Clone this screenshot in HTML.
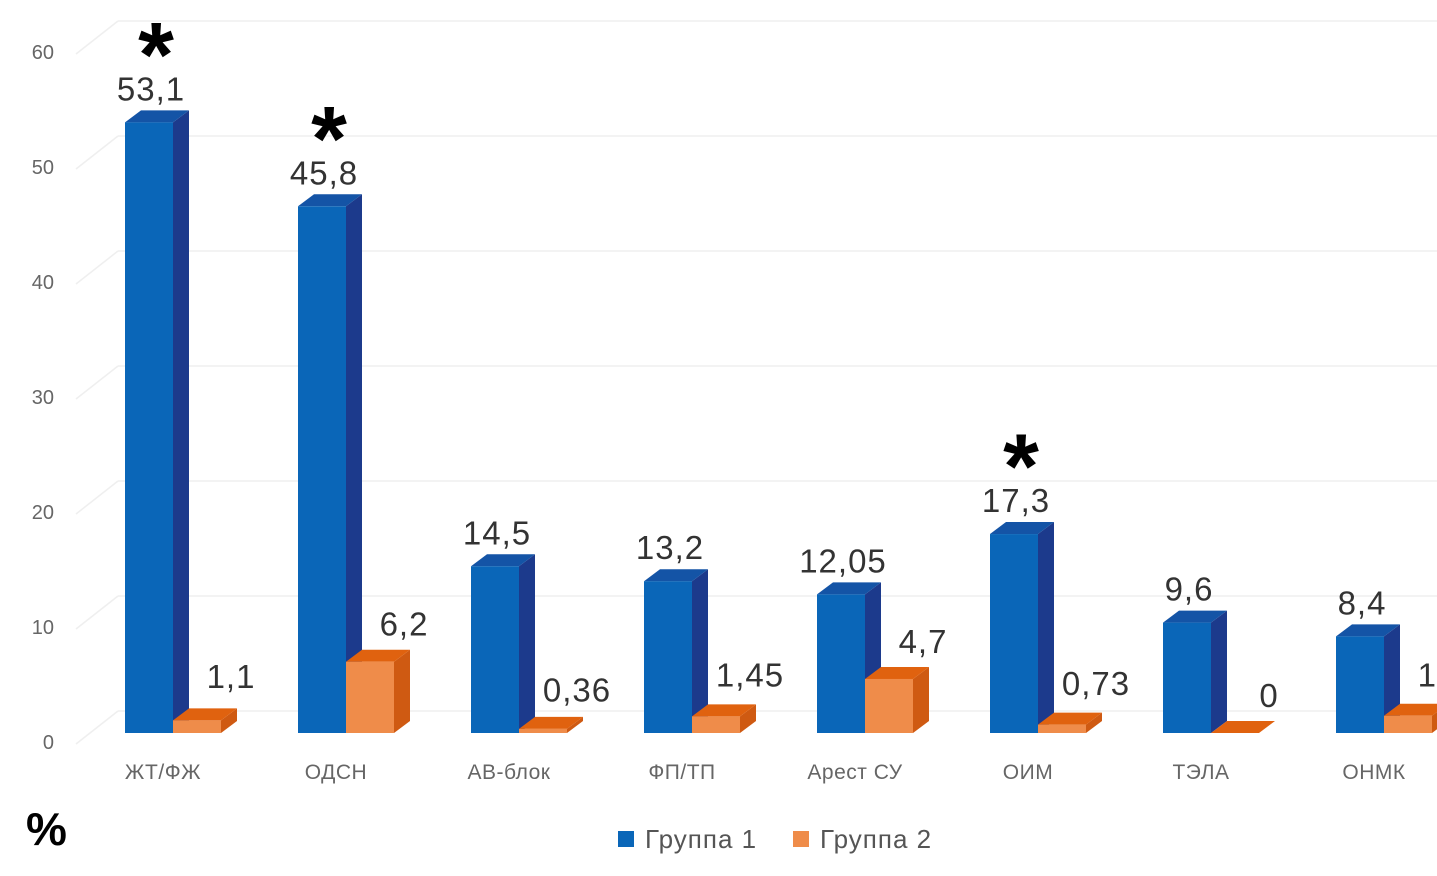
<!DOCTYPE html>
<html><head><meta charset="utf-8"><style>
body{margin:0;background:#fff;overflow:hidden}
svg{display:block;font-family:"Liberation Sans","DejaVu Sans",sans-serif}
</style></head><body>
<svg id="chart" width="1437" height="876" viewBox="0 0 1437 876"></svg>
<script>
const categories=["ЖТ/ФЖ","ОДСН","АВ-блок","ФП/ТП","Арест СУ","ОИМ","ТЭЛА","ОНМК"];
const group1=[53.1,45.8,14.5,13.2,12.05,17.3,9.6,8.4];
const group2=[1.1,6.2,0.36,1.45,4.7,0.73,0,1.5];
const significant=[true,true,false,false,false,true,false,false];
const yTicks=[0,10,20,30,40,50,60];
const NS="http://www.w3.org/2000/svg";
const svg=document.getElementById('chart');
const base=733, scale=11.5, x0=125, step=173, bw=48, dx=16, dy=-12;
const yF=v=>base-v*scale;
const xC=i=>x0+i*step;
function el(t,a,p){const e=document.createElementNS(NS,t);for(const k in a)e.setAttribute(k,a[k]);(p||svg).appendChild(e);return e;}
const fmt=v=>String(v).replace('.',',');
yTicks.forEach(v=>{
  const gy=yF(v)-22;
  const g=el('line',{x1:118,y1:gy,x2:1437,y2:gy,stroke:'#efefef','stroke-width':1.5});
  
  
  const d=el('line',{x1:76,y1:gy+33,x2:118,y2:gy,stroke:'#efefef','stroke-width':1.5});
  
  
  const t=el('text',{x:54,y:gy+38,'text-anchor':'end','font-size':20,fill:'#666'});
  t.textContent=v;
  
  
});
function bar3d(x,v,cf,cs,ct,name){
  const g=el('g',{});
  
  
  const top=yF(v);
  el('polygon',{points:`${x+bw},${top} ${x+bw+dx},${top+dy} ${x+bw+dx},${base+dy} ${x+bw},${base}`,fill:cs},g);
  el('polygon',{points:`${x},${top} ${x+dx},${top+dy} ${x+bw+dx},${top+dy} ${x+bw},${top}`,fill:ct},g);
  el('rect',{x:x,y:top,width:bw,height:Math.max(0,base-top),fill:cf},g);
  return top;
}
categories.forEach((c,i)=>{
  const x=xC(i);
  const t1=bar3d(x,group1[i],'#0a66b8','#1c3a8c','#1454a6','bar-group1');
  const t2=bar3d(x+bw,group2[i],'#ef8c4a','#cf5a12','#e0620f','bar-group2');
  const l1=el('text',{x:x+bw/2+2,y:t1-22,'text-anchor':'middle','font-size':33,'letter-spacing':1,fill:'#333'});
  l1.textContent=fmt(group1[i]);
  
  
  const l2=el('text',{x:x+bw+bw/2+34,y:Math.min(t2-26,708-Math.min(group2[i],1.2)*18),'text-anchor':'middle','font-size':33,'letter-spacing':1,fill:'#333'});
  l2.textContent=fmt(group2[i]);
  
  
  if(significant[i]){
    const s=el('text',{x:x+bw/2+7,y:t1-36,'text-anchor':'middle','font-size':92,'font-weight':'bold',fill:'#000'});
    s.textContent='*';
    
    
  }
  const cl=el('text',{x:x+bw/2+14,y:779,'text-anchor':'middle','font-size':21,'letter-spacing':0.5,fill:'#666'});
  cl.textContent=c;
  
  
});
const pc=el('text',{x:26,y:845,'font-size':46,'font-weight':'bold',fill:'#000'});
pc.textContent='%';


[['#0a66b8','Группа 1',618],['#ef8c4a','Группа 2',793]].forEach(([c,n,x])=>{
  const g=el('g',{});
  
  
  el('rect',{x:x,y:831,width:16,height:16,fill:c},g);
  const t=el('text',{x:x+27,y:848,'font-size':26,'letter-spacing':1,fill:'#555'},g);
  t.textContent=n;
});
</script>
</body></html>
